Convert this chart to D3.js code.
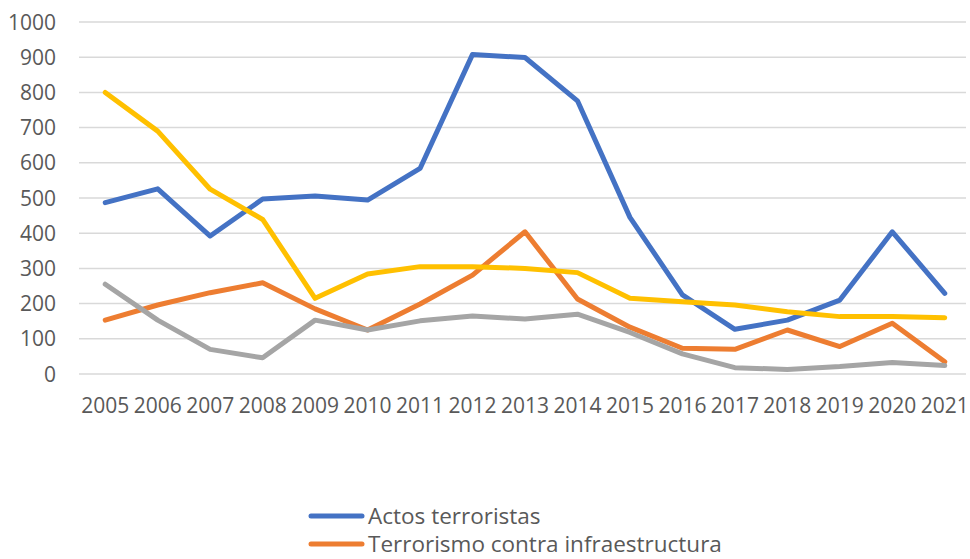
<!DOCTYPE html>
<html><head><meta charset="utf-8">
<script src="https://cdn.jsdelivr.net/npm/d3@7"></script>
<style>body{margin:0;background:#fff}svg{display:block}text{font-family:"Open Sans",sans-serif;fill:#595959}</style>
</head><body>
<svg id="c" width="970" height="559"></svg>
<script>
const years = ["2005","2006","2007","2008","2009","2010","2011","2012","2013","2014","2015","2016","2017","2018","2019","2020","2021"];
const seriesNames = ["Actos terroristas","Terrorismo contra infraestructura","Serie 3","Serie 4"];
const actos = [487,526,392,497,506,494,584,908,899,776,445,225,127,153,210,404,229];
const infra = [153,196,231,259,185,125,199,281,404,213,133,73,70,125,78,144,35];
const serie3 = [255,153,70,46,153,125,151,165,156,170,118,57,18,13,21,33,24];
const serie4 = [800,690,525,439,215,284,305,305,300,288,215,205,196,177,163,163,160];
const colors = ["#4472C4","#ED7D31","#A5A5A5","#FFC000"];
const yTicks = [0,100,200,300,400,500,600,700,800,900,1000];
const legendShown = 2;

(function(){
const svg = d3.select("#c");
const pL = 79, pR = 971, pT = 22, pB = 374;
const x = d3.scaleBand().domain(years).range([pL, pR]);
const y = d3.scaleLinear().domain([0,1000]).range([pB, pT]);

svg.append("g").selectAll("line").data(yTicks).join("line")
  .attr("x1", pL).attr("x2", 966)
  .attr("y1", d => y(d)).attr("y2", d => y(d))
  .attr("stroke", "#d9d9d9").attr("stroke-width", 1.5);

svg.append("g").selectAll("text").data(yTicks).join("text")
  .attr("x", 56).attr("y", d => y(d)).attr("dy", "0.36em")
  .attr("text-anchor", "end").style("font-size", "21px").text(d => d);

svg.append("g").selectAll("text").data(years).join("text")
  .attr("x", d => x(d) + x.bandwidth()/2).attr("y", 405).attr("dy", "0.36em")
  .attr("text-anchor", "middle").style("font-size", "21px").text(d => d);

const all = [actos, infra, serie3, serie4];
const line = d3.line().x((d,i) => x(years[i]) + x.bandwidth()/2).y(d => y(d));
all.forEach((s, k) => {
  svg.append("path").datum(s).attr("d", line)
    .attr("fill", "none").attr("stroke", colors[k]).attr("stroke-width", 5)
    .attr("stroke-linejoin", "round").attr("stroke-linecap", "round");
});

const lg = svg.append("g");
seriesNames.slice(0, legendShown).forEach((n, i) => {
  const yy = 516 + i * 28;
  lg.append("line").attr("x1", 311).attr("x2", 362).attr("y1", yy).attr("y2", yy)
    .attr("stroke", colors[i]).attr("stroke-width", 5).attr("stroke-linecap", "round");
  lg.append("text").attr("x", 368).attr("y", yy).attr("dy", "0.36em")
    .style("font-size", "22.5px").text(n);
});
})();
</script>
</body></html>
